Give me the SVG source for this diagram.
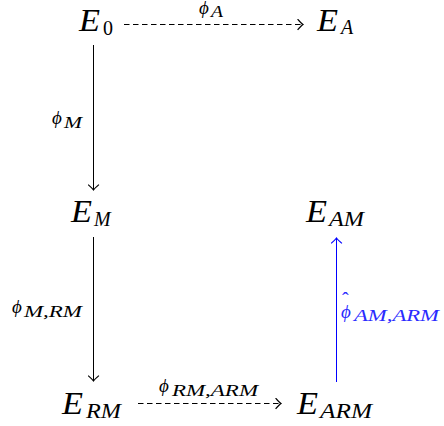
<svg xmlns="http://www.w3.org/2000/svg" width="444" height="426" viewBox="0 0 444 426">
<defs>
<style>
text{font-family:"Liberation Serif","Times New Roman",serif;font-style:italic;fill:#000}
.E{font-size:31px}
.s{font-size:20px}
.d0{font-size:20px;font-style:normal}
.p{font-size:19px}
.ps{font-size:16px}
.hat{font-size:20px;font-style:normal}
.blue{fill:#2a2aff}
.e{fill:none;stroke:#000;stroke-width:1}
.d{stroke-dasharray:5.5 3.5}
.b{stroke:#0000ff}
</style>
<marker id="ah" markerWidth="10" markerHeight="12" refX="0" refY="0" viewBox="-6 -5 8 10" orient="auto" markerUnits="userSpaceOnUse">
<path d="M-4.5,-4.5 Q-1.5,-1 0,0 Q-1.5,1 -4.5,4.5" fill="none" stroke="#000" stroke-width="1"/>
</marker>
<marker id="ahb" markerWidth="10" markerHeight="12" refX="0" refY="0" viewBox="-6 -5 8 10" orient="auto" markerUnits="userSpaceOnUse">
<path d="M-4.5,-4.5 Q-1.5,-1 0,0 Q-1.5,1 -4.5,4.5" fill="none" stroke="#0000ff" stroke-width="1"/>
</marker>
</defs>
<g id="connectors">
<g id="c-phiA">
<path class="e d" d="M124,24.5 H303" marker-end="url(#ah)"/>
<text class="p" x="199" y="14">ϕ</text><text class="ps" x="211" y="16.5" textLength="12" lengthAdjust="spacingAndGlyphs">A</text>
</g>
<g id="c-phiM">
<path class="e" d="M93.5,45 V190" marker-end="url(#ah)"/>
<text class="p" x="52" y="124">ϕ</text><text class="ps" x="64" y="127.5" textLength="18" lengthAdjust="spacingAndGlyphs">M</text>
</g>
<g id="c-phiMRM">
<path class="e" d="M93.5,237 V381" marker-end="url(#ah)"/>
<text class="p" x="12" y="313">ϕ</text><text class="ps" x="24" y="316.5" textLength="58" lengthAdjust="spacingAndGlyphs">M,RM</text>
</g>
<g id="c-phiRMARM">
<path class="e d" d="M138,403.5 H281" marker-end="url(#ah)"/>
<text class="p" x="159" y="392">ϕ</text><text class="ps" x="172" y="395.5" textLength="86" lengthAdjust="spacingAndGlyphs">RM,ARM</text>
</g>
<g id="c-phiAMARM">
<path class="e b" d="M336.5,382 V238" marker-end="url(#ahb)"/>
<text class="p blue" x="341" y="318">ϕ</text><text class="hat blue" x="342" y="307">ˆ</text><text class="ps blue" x="354" y="320.5" textLength="85" lengthAdjust="spacingAndGlyphs">AM,ARM</text>
</g>
</g>
<g id="E0"><text class="E" x="79" y="31" textLength="21" lengthAdjust="spacingAndGlyphs">E</text><text class="d0" x="103" y="35">0</text></g>
<g id="EA"><text class="E" x="317" y="31" textLength="21" lengthAdjust="spacingAndGlyphs">E</text><text class="s" x="341" y="34">A</text></g>
<g id="EM"><text class="E" x="71" y="222" textLength="21" lengthAdjust="spacingAndGlyphs">E</text><text class="s" x="94" y="226">M</text></g>
<g id="EAM"><text class="E" x="306" y="222" textLength="21" lengthAdjust="spacingAndGlyphs">E</text><text class="s" x="329" y="226" textLength="35" lengthAdjust="spacingAndGlyphs">AM</text></g>
<g id="ERM"><text class="E" x="62" y="414" textLength="21" lengthAdjust="spacingAndGlyphs">E</text><text class="s" x="86" y="418" textLength="35" lengthAdjust="spacingAndGlyphs">RM</text></g>
<g id="EARM"><text class="E" x="297" y="414" textLength="21" lengthAdjust="spacingAndGlyphs">E</text><text class="s" x="320" y="418" textLength="52" lengthAdjust="spacingAndGlyphs">ARM</text></g>
</svg>
